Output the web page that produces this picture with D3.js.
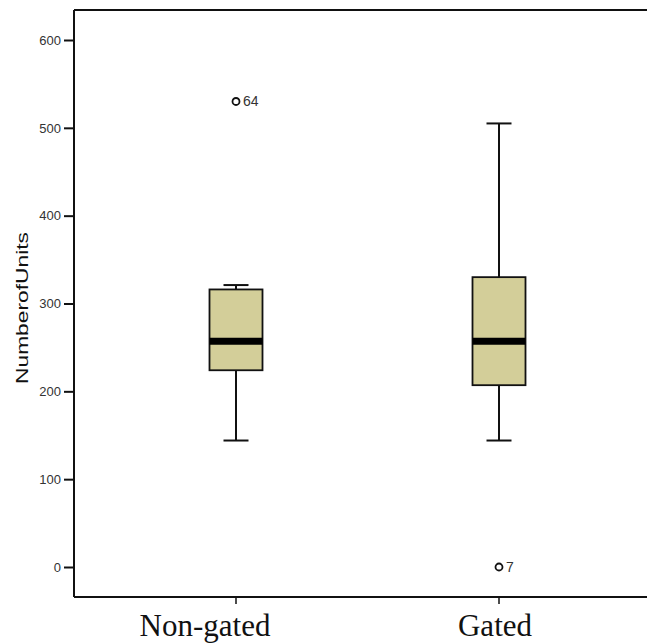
<!DOCTYPE html>
<html>
<head>
<meta charset="utf-8">
<script src="https://cdn.jsdelivr.net/npm/d3@7"></script>
<style>
  html, body { margin: 0; padding: 0; background: #fff; }
  svg { display: block; }
</style>
</head>
<body>
<svg id="chart" width="647" height="643"></svg>
<script>
// Box plot of number of units for non-gated and gated communities
const categories = ["Non-gated", "Gated"];
const whiskerLow = [144, 144];
const q1 = [224, 207];
const median = [257, 257];
const q3 = [316, 330];
const whiskerHigh = [321, 505];
const outlierValues = [530, 0];
const outlierLabels = ["64", "7"];
const yTicks = [0, 100, 200, 300, 400, 500, 600];

(function () {
  const svg = d3.select("#chart");
  const frameLeft = 74, frameRight = 647, frameTop = 10, frameBottom = 597;

  const y = d3.scaleLinear().domain([0, 600]).range([567, 40]);
  const x = d3.scaleOrdinal().domain(categories).range([236, 499]);

  const boxHalf = 26.5;
  const capHalf = 12.5;
  const fill = "#d3ce99";

  // Frame: top border, left axis, bottom axis
  svg.append("line").attr("x1", frameLeft).attr("x2", frameRight).attr("y1", frameTop).attr("y2", frameTop)
    .attr("stroke", "#111").attr("stroke-width", 2);
  svg.append("line").attr("x1", frameLeft).attr("x2", frameLeft).attr("y1", frameTop).attr("y2", frameBottom)
    .attr("stroke", "#111").attr("stroke-width", 2);
  svg.append("line").attr("x1", frameLeft).attr("x2", frameRight).attr("y1", frameBottom).attr("y2", frameBottom)
    .attr("stroke", "#111").attr("stroke-width", 2);

  // Y axis ticks and labels
  const yAxis = d3.axisLeft(y).tickValues(yTicks).tickSize(10).tickPadding(3);
  const gy = svg.append("g").attr("transform", `translate(${frameLeft},0)`).call(yAxis);
  gy.select(".domain").remove();
  gy.selectAll(".tick line").attr("stroke", "#111").attr("stroke-width", 2);
  gy.selectAll(".tick text").attr("fill", "#333")
    .style("font-family", "'Liberation Sans', Arial, sans-serif").style("font-size", "13px");

  // Y axis title
  svg.append("text")
    .attr("transform", "translate(28,308) rotate(-90)")
    .attr("text-anchor", "middle")
    .attr("textLength", 152)
    .attr("lengthAdjust", "spacingAndGlyphs")
    .style("font-family", "'Liberation Sans', Arial, sans-serif")
    .style("font-size", "17px")
    .attr("fill", "#111")
    .text("NumberofUnits");

  // X axis ticks and category labels
  const labelCenters = [205, 495];
  categories.forEach((c, i) => {
    svg.append("line").attr("x1", x(c)).attr("x2", x(c)).attr("y1", frameBottom).attr("y2", frameBottom + 7)
      .attr("stroke", "#111").attr("stroke-width", 1.5);
    svg.append("text")
      .attr("x", labelCenters[i]).attr("y", 636)
      .attr("text-anchor", "middle")
      .style("font-family", "'Liberation Serif', 'Times New Roman', serif")
      .style("font-size", "31px")
      .attr("fill", "#111")
      .text(c);
  });

  // Boxes, whiskers, medians and outliers
  const g = svg.append("g");
  categories.forEach((c, i) => {
    const cx = x(c);
    g.append("line").attr("x1", cx).attr("x2", cx).attr("y1", y(q3[i])).attr("y2", y(whiskerHigh[i]))
      .attr("stroke", "#111").attr("stroke-width", 2);
    g.append("line").attr("x1", cx).attr("x2", cx).attr("y1", y(q1[i])).attr("y2", y(whiskerLow[i]))
      .attr("stroke", "#111").attr("stroke-width", 2);
    g.append("line").attr("x1", cx - capHalf).attr("x2", cx + capHalf)
      .attr("y1", y(whiskerHigh[i])).attr("y2", y(whiskerHigh[i]))
      .attr("stroke", "#111").attr("stroke-width", 2);
    g.append("line").attr("x1", cx - capHalf).attr("x2", cx + capHalf)
      .attr("y1", y(whiskerLow[i])).attr("y2", y(whiskerLow[i]))
      .attr("stroke", "#111").attr("stroke-width", 2);
    g.append("rect")
      .attr("x", cx - boxHalf).attr("width", boxHalf * 2)
      .attr("y", y(q3[i])).attr("height", y(q1[i]) - y(q3[i]))
      .attr("fill", fill).attr("stroke", "#111").attr("stroke-width", 1.8);
    g.append("line").attr("x1", cx - boxHalf).attr("x2", cx + boxHalf)
      .attr("y1", y(median[i])).attr("y2", y(median[i]))
      .attr("stroke", "#000").attr("stroke-width", 7);
    g.append("circle").attr("cx", cx).attr("cy", y(outlierValues[i])).attr("r", 3.5)
      .attr("fill", "#fff").attr("stroke", "#111").attr("stroke-width", 1.8);
    g.append("text").attr("x", cx + 7).attr("y", y(outlierValues[i]) + 5)
      .style("font-family", "'Liberation Sans', Arial, sans-serif")
      .style("font-size", "14px").attr("fill", "#333")
      .text(outlierLabels[i]);
  });
})();
</script>
</body>
</html>
